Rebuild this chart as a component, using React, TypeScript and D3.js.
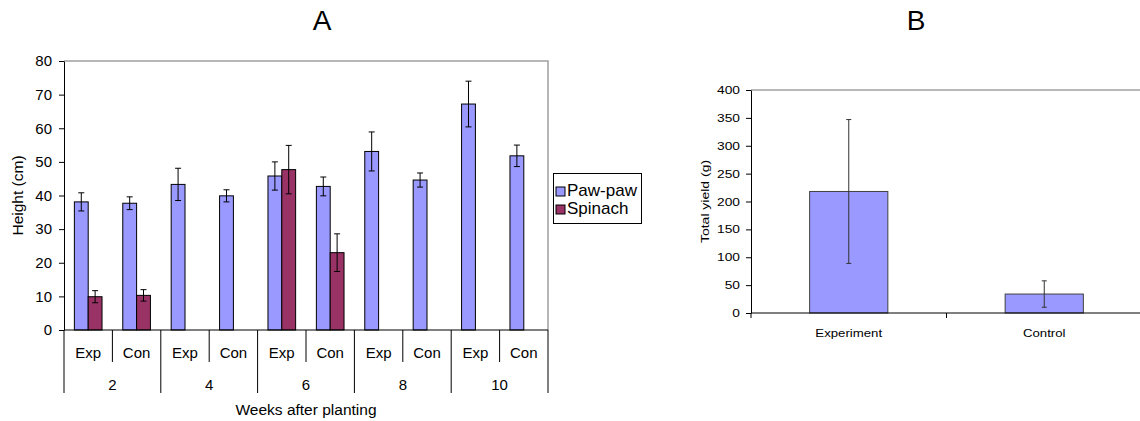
import * as d3 from "d3";
import { useEffect, useRef } from "react";

const weeks = ["2", "4", "6", "8", "10"];
const treatments = ["Exp", "Con"];
const seriesNames = ["Paw-paw", "Spinach"];
const seriesColors = ["#9999FF", "#993366"];

// one value per week x treatment, in order 2-Exp, 2-Con, 4-Exp ...
const pawpawHeight = [38.1, 37.7, 43.3, 39.9, 45.8, 42.7, 53.1, 44.6, 67.2, 51.8];
const pawpawErr = [2.7, 1.9, 4.8, 1.8, 4.2, 2.8, 5.8, 2.1, 6.8, 3.2];
const spinachHeight = [9.9, 10.3, null, null, 47.7, 23.0, null, null, null, null];
const spinachErr = [1.8, 1.7, null, null, 7.2, 5.6, null, null, null, null];

const yieldCategories = ["Experiment", "Control"];
const yieldValues = [218, 34];
const yieldErr = [129, 23.7];

const heightTicks = [0, 10, 20, 30, 40, 50, 60, 70, 80];
const yieldTicks = [0, 50, 100, 150, 200, 250, 300, 350, 400];

const FONT = "'Liberation Sans', Arial, sans-serif";

const App = () => {
  const ref = useRef<SVGSVGElement>(null);

  useEffect(() => {
    document.body.style.margin = "0";
    const svg = d3.select(ref.current);
    svg.selectAll("*").remove();
    svg.style("font-family", FONT);

    // ---------- chart A ----------
    const a = { left: 64, right: 548, top: 61, bottom: 330 };
    const keys = weeks.flatMap((w) => treatments.map((t) => `${w}-${t}`));
    const x = d3.scaleBand().domain(keys).range([a.left, a.right]);
    const xs = d3.scaleBand().domain(seriesNames).range([0, x.bandwidth()]).paddingOuter(0.75);
    const y = d3.scaleLinear().domain([0, 80]).range([a.bottom, a.top]);

    const gA = svg.append("g");

    // plot border top/right
    gA.append("path")
      .attr("d", `M${a.left},${a.top}H${a.right}V${a.bottom}`)
      .attr("fill", "none")
      .attr("stroke", "#a0a0a0")
      .attr("stroke-width", 1.5);

    const series = [
      { name: seriesNames[0], values: pawpawHeight, errs: pawpawErr },
      { name: seriesNames[1], values: spinachHeight, errs: spinachErr },
    ];

    series.forEach((s, si) => {
      const rows = keys
        .map((k, i) => ({ k, v: s.values[i], e: s.errs[i] }))
        .filter((d) => d.v != null);
      gA.append("g")
        .selectAll("rect")
        .data(rows)
        .join("rect")
        .attr("x", (d) => x(d.k)! + xs(s.name)!)
        .attr("y", (d) => y(d.v!))
        .attr("width", xs.bandwidth())
        .attr("height", (d) => a.bottom - y(d.v!))
        .attr("fill", seriesColors[si])
        .attr("stroke", "#000")
        .attr("stroke-width", 1);

      const eb = gA.append("g").attr("stroke", "#000").attr("stroke-width", 1);
      rows.forEach((d) => {
        const cx = x(d.k)! + xs(s.name)! + xs.bandwidth() / 2;
        const y1 = y(d.v! + d.e!);
        const y0 = y(d.v! - d.e!);
        eb.append("line").attr("x1", cx).attr("x2", cx).attr("y1", y1).attr("y2", y0);
        eb.append("line").attr("x1", cx - 3).attr("x2", cx + 3).attr("y1", y1).attr("y2", y1);
        eb.append("line").attr("x1", cx - 3).attr("x2", cx + 3).attr("y1", y0).attr("y2", y0);
      });
    });

    // y axis
    const yAxisA = gA.append("g")
      .attr("transform", `translate(${a.left},0)`)
      .call(d3.axisLeft(y).tickValues(heightTicks).tickSize(5).tickSizeOuter(0).tickPadding(7));
    yAxisA.selectAll("text").style("font-size", "15px").attr("fill", "#000");
    yAxisA.select(".domain").attr("stroke", "#000");

    // x baseline and multi-level category axis
    gA.append("line")
      .attr("x1", a.left).attr("x2", a.right)
      .attr("y1", a.bottom).attr("y2", a.bottom)
      .attr("stroke", "#000");

    const bounds = [...keys.map((k) => x(k)!), a.right];
    gA.append("g")
      .selectAll("line")
      .data(bounds)
      .join("line")
      .attr("x1", (d) => d).attr("x2", (d) => d)
      .attr("y1", a.bottom)
      .attr("y2", (_, i) => (i % 2 === 0 ? 393 : 362))
      .attr("stroke", "#000");

    gA.append("g")
      .selectAll("text")
      .data(keys)
      .join("text")
      .attr("x", (d) => x(d)! + x.bandwidth() / 2)
      .attr("y", 358)
      .attr("text-anchor", "middle")
      .style("font-size", "15px")
      .text((d) => d.split("-")[1]);

    gA.append("g")
      .selectAll("text")
      .data(weeks)
      .join("text")
      .attr("x", (w) => x(`${w}-Exp`)! + x.bandwidth())
      .attr("y", 390)
      .attr("text-anchor", "middle")
      .style("font-size", "15px")
      .text((w) => w);

    gA.append("text")
      .attr("x", (a.left + a.right) / 2)
      .attr("y", 415)
      .attr("text-anchor", "middle")
      .style("font-size", "15.5px")
      .text("Weeks after planting");

    gA.append("text")
      .attr("transform", `translate(23,${(a.top + a.bottom) / 2}) rotate(-90)`)
      .attr("text-anchor", "middle")
      .style("font-size", "15.5px")
      .text("Height (cm)");

    gA.append("text")
      .attr("x", 322)
      .attr("y", 30)
      .attr("text-anchor", "middle")
      .style("font-size", "28px")
      .text("A");

    // legend
    const legend = gA.append("g");
    legend.append("rect")
      .attr("x", 553.5).attr("y", 173.5)
      .attr("width", 88).attr("height", 50)
      .attr("fill", "#fff").attr("stroke", "#000");
    seriesNames.forEach((name, i) => {
      legend.append("rect")
        .attr("x", 556).attr("y", 187 + i * 18)
        .attr("width", 9).attr("height", 9)
        .attr("fill", seriesColors[i]).attr("stroke", "#000");
      legend.append("text")
        .attr("x", 567).attr("y", 196 + i * 18)
        .style("font-size", "17px")
        .text(name);
    });

    // ---------- chart B ----------
    const b = { left: 751, right: 1142, top: 90, bottom: 313 };
    const xb = d3.scaleBand().domain(yieldCategories).range([b.left, b.right])
      .paddingInner(0.6).paddingOuter(0.3);
    const yb = d3.scaleLinear().domain([0, 400]).range([b.bottom, b.top]);
    const gB = svg.append("g");

    const stretch = (sel: d3.Selection<any, any, any, any>, f: number) => {
      sel.each(function () {
        const t = this as SVGTextElement;
        const w = t.getComputedTextLength();
        d3.select(t).attr("textLength", w * f).attr("lengthAdjust", "spacingAndGlyphs");
      });
    };

    gB.append("path")
      .attr("d", `M${b.left},${b.top}H${b.right}`)
      .attr("stroke", "#a0a0a0")
      .attr("stroke-width", 1.5);

    gB.append("g")
      .selectAll("rect")
      .data(yieldCategories)
      .join("rect")
      .attr("x", (d) => xb(d)!)
      .attr("y", (_, i) => yb(yieldValues[i]))
      .attr("width", xb.bandwidth())
      .attr("height", (_, i) => b.bottom - yb(yieldValues[i]))
      .attr("fill", "#9999FF")
      .attr("stroke", "#404040");

    const ebB = gB.append("g").attr("stroke", "#333").attr("stroke-width", 1);
    yieldCategories.forEach((c, i) => {
      const cx = xb(c)! + xb.bandwidth() / 2;
      const y1 = yb(yieldValues[i] + yieldErr[i]);
      const y0 = yb(yieldValues[i] - yieldErr[i]);
      ebB.append("line").attr("x1", cx).attr("x2", cx).attr("y1", y1).attr("y2", y0);
      ebB.append("line").attr("x1", cx - 2.5).attr("x2", cx + 2.5).attr("y1", y1).attr("y2", y1);
      ebB.append("line").attr("x1", cx - 2.5).attr("x2", cx + 2.5).attr("y1", y0).attr("y2", y0);
    });

    const yAxisB = gB.append("g")
      .attr("transform", `translate(${b.left},0)`)
      .call(d3.axisLeft(yb).tickValues(yieldTicks).tickSize(5).tickSizeOuter(0).tickPadding(6));
    yAxisB.select(".domain").attr("stroke", "#000");
    const yTextB = yAxisB.selectAll("text").style("font-size", "11px").attr("fill", "#000");
    stretch(yTextB, 1.25);

    gB.append("line")
      .attr("x1", b.left).attr("x2", b.right)
      .attr("y1", b.bottom).attr("y2", b.bottom)
      .attr("stroke", "#000");
    const stepB = xb.step();
    gB.append("g")
      .selectAll("line")
      .data([0, 1, 2])
      .join("line")
      .attr("x1", (i) => b.left + i * stepB).attr("x2", (i) => b.left + i * stepB)
      .attr("y1", b.bottom).attr("y2", b.bottom + 5)
      .attr("stroke", "#000");

    const xTextB = gB.append("g")
      .selectAll("text")
      .data(yieldCategories)
      .join("text")
      .attr("x", (d) => xb(d)! + xb.bandwidth() / 2)
      .attr("y", 337)
      .attr("text-anchor", "middle")
      .style("font-size", "11px")
      .text((d) => d);
    stretch(xTextB, 1.2);

    const yLabelB = gB.append("text")
      .attr("transform", `translate(709,${(b.top + b.bottom) / 2}) rotate(-90)`)
      .attr("text-anchor", "middle")
      .style("font-size", "11px")
      .text("Total yield (g)");
    stretch(yLabelB, 1.27);

    gB.append("text")
      .attr("x", 916)
      .attr("y", 30)
      .attr("text-anchor", "middle")
      .style("font-size", "28px")
      .text("B");
  }, []);

  return <svg ref={ref} width={1140} height={421} style={{ display: "block" }} />;
};

export default App;
